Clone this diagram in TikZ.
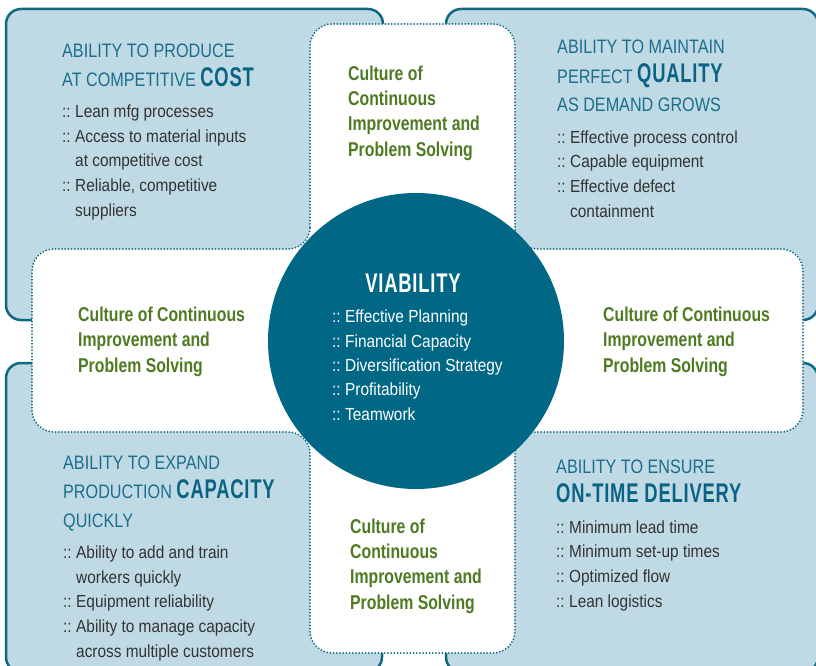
\documentclass[tikz,border=0pt]{standalone}
\usepackage{fontspec}
\setmainfont{Liberation Sans}
\newfontfamily\fR{Liberation Sans}[FakeStretch=0.88]
\newfontfamily\fH{Liberation Sans}[FakeStretch=0.83]
\newfontfamily\fB{Liberation Sans}[FakeStretch=0.68,LetterSpace=3]
\newfontfamily\fG{Liberation Sans}[FakeStretch=0.79]
\definecolor{pfill}{HTML}{BFDAE4}
\definecolor{tealline}{HTML}{0F6983}
\definecolor{circc}{HTML}{006784}
\definecolor{headc}{HTML}{1B6E8C}
\definecolor{headb}{HTML}{0B6383}
\definecolor{greenc}{HTML}{4E7B22}
\definecolor{bodyc}{HTML}{333333}
\newcommand\bigw[1]{{\fB\bfseries\fontsize{27}{29}\selectfont\color{headb}#1}}
\newcommand\bl{\makebox[13pt][l]{::}}
\newcommand\ind{\hspace*{13pt}}
\tikzset{
  panel/.style={fill=pfill, draw=tealline, line width=2.5pt, rounded corners=15pt},
  crossbox/.style={fill=white, draw=tealline, line width=2pt, dash pattern=on 0pt off 3.2pt, line cap=round, rounded corners=22pt},
  hd/.style={anchor=base west, inner sep=0pt, align=left, text=headc, font=\fH\fontsize{19.5}{29}\selectfont},
  lst/.style={anchor=base west, inner sep=0pt, align=left, text=bodyc, font=\fR\fontsize{17.5}{24.6}\selectfont},
  grn/.style={anchor=base west, inner sep=0pt, align=left, text=greenc, font=\fG\bfseries\fontsize{20}{25.3}\selectfont},
}
\begin{document}
\begin{tikzpicture}[x=1pt, y=-1pt]
\useasboundingbox (0,0) rectangle (816,666);
\begin{scope}
\clip (0,0) rectangle (816,666);
\draw[panel] (6,9) rectangle (383,320);
\draw[panel] (446,9) rectangle (818,320);
\draw[panel] (6,363) rectangle (382,672);
\draw[panel] (446,363) rectangle (818,672);
\draw[crossbox] (310,249) -- (310,24) -- (515,24) -- (515,249) -- (803,249) -- (803,432) -- (515,432) -- (515,653) -- (310,653) -- (310,432) -- (32,432) -- (32,249) -- cycle;
\end{scope}
\node[circle, fill=circc, minimum size=296pt, inner sep=0pt] (hub) at (416,341) {};

% anchors: baseline of the LAST line of each block
\node[hd] (tlh) at (62,87) {ABILITY TO PRODUCE\\AT COMPETITIVE \bigw{COST}};
\node[lst] (tll) at (62,216) {\bl Lean mfg processes\\\bl Access to material inputs\\\ind at competitive cost\\\bl Reliable, competitive\\\ind suppliers};

\node[hd] (trh) at (557,112) {ABILITY TO MAINTAIN\\PERFECT \bigw{QUALITY}\\AS DEMAND GROWS};
\node[lst] (trl) at (557,217) {\bl Effective process control\\\bl Capable equipment\\\bl Effective defect\\\ind containment};

\node[hd] (blh) at (63,527) {ABILITY TO EXPAND\\PRODUCTION \bigw{CAPACITY}\\QUICKLY};
\node[lst] (bll) at (63,657) {\bl Ability to add and train\\\ind workers quickly\\\bl Equipment reliability\\\bl Ability to manage capacity\\\ind across multiple customers};

\node[hd] (brh) at (556,502) {ABILITY TO ENSURE\\\bigw{ON-TIME DELIVERY}};
\node[lst] (brl) at (556,607) {\bl Minimum lead time\\\bl Minimum set-up times\\\bl Optimized flow\\\bl Lean logistics};

\node[grn] (gtop) at (348,156) {Culture of\\Continuous\\Improvement and\\Problem Solving};
\node[grn] (gleft) at (78,372) {Culture of Continuous\\Improvement and\\Problem Solving};
\node[grn] (gright) at (603,372) {Culture of Continuous\\Improvement and\\Problem Solving};
\node[grn] (gbot) at (350,609) {Culture of\\Continuous\\Improvement and\\Problem Solving};

\node[anchor=base, inner sep=0pt, text=white, font=\fB\bfseries\fontsize{27}{29}\selectfont] (vt) at (413,292) {VIABILITY};
\node[lst, text=white, font=\fR\fontsize{17.5}{24.3}\selectfont] (vl) at (332,420) {\bl Effective Planning\\\bl Financial Capacity\\\bl Diversification Strategy\\\bl Profitability\\\bl Teamwork};
\end{tikzpicture}
\end{document}
